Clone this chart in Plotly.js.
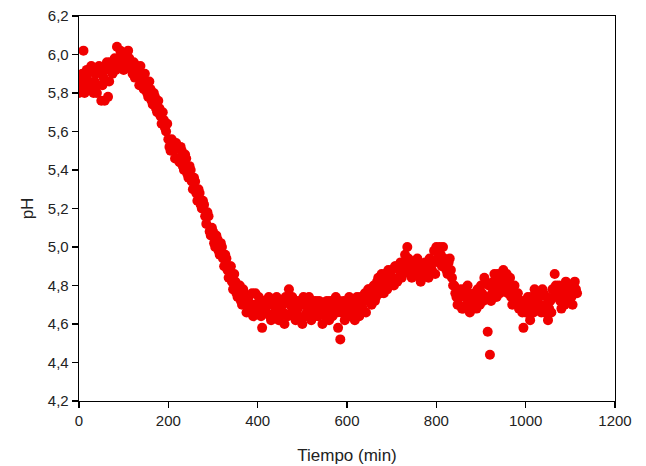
<!DOCTYPE html>
<html>
<head>
<meta charset="utf-8">
<script src="https://cdn.plot.ly/plotly-3.0.1.min.js"></script>
<style>html,body{margin:0;padding:0;background:#fff;}#chart{width:646px;height:466px;}</style>
</head>
<body>
<div id="chart"></div>
<script>
// Time (min) - first set of readings
const tiempoA = [
  0,5,10,15,20,25,30,35,40,45,
  50,55,60,65,70,75,80,85,90,95,
  100,105,110,115,120,125,130,135,140,145,
  150,155,160,165,170,175,180,185,190,195,
  200,205,210,215,220,225,230,235,240,245,
  250,255,260,265,270,275,280,285,290,295,
  300,305,310,315,320,325,330,335,340,345,
  350,355,360,365,370,375,380,385,390,395,
  400,405,410,415,420,425,430,435,440,445,
  450,455,460,465,470,475,480,485,490,495,
  500,505,510,515,520,525,530,535,540,545,
  550,555,560,565,570,575,580,585,590,595,
  600,605,610,615,620,625,630,635,640,645,
  650,655,660,665,670,675,680,685,690,695,
  700,705,710,715,720,725,730,735,740,745,
  750,755,760,765,770,775,780,785,790,795,
  800,805,810,815,820,825,830,835,840,845,
  850,855,860,865,870,875,880,885,890,895,
  900,905,910,915,920,925,930,935,940,945,
  950,955,960,965,970,975,980,985,990,995,
  1000,1005,1010,1015,1020,1025,1030,1035,1040,1045,
  1050,1055,1060,1065,1070,1075,1080,1085,1090,1095,
  1100,1105,1110,1115
];
const pHA = [
  5.80,5.88,6.02,5.84,5.90,5.82,5.92,5.86,5.80,5.94,
  5.76,5.88,5.92,5.78,5.96,5.90,5.98,6.04,5.94,6.00,
  5.92,5.98,6.02,5.96,5.90,5.88,5.94,5.84,5.90,5.82,
  5.84,5.78,5.82,5.74,5.78,5.70,5.72,5.64,5.66,5.60,
  5.56,5.50,5.54,5.46,5.52,5.44,5.50,5.40,5.46,5.36,
  5.40,5.30,5.34,5.24,5.28,5.20,5.22,5.12,5.16,5.06,
  5.08,5.00,5.04,4.96,5.00,4.90,4.94,4.84,4.90,4.78,
  4.82,4.74,4.80,4.70,4.76,4.66,4.74,4.70,4.64,4.76,
  4.68,4.72,4.58,4.70,4.66,4.74,4.62,4.70,4.68,4.72,
  4.64,4.70,4.60,4.72,4.78,4.66,4.70,4.62,4.68,4.72,
  4.60,4.70,4.66,4.74,4.62,4.68,4.72,4.64,4.70,4.60,
  4.66,4.72,4.62,4.70,4.66,4.74,4.58,4.52,4.68,4.62,
  4.70,4.74,4.64,4.72,4.66,4.70,4.74,4.68,4.76,4.72,
  4.78,4.70,4.80,4.74,4.84,4.76,4.82,4.86,4.78,4.84,
  4.88,4.80,4.90,4.84,4.92,4.86,4.96,5.00,4.90,4.84,
  4.92,4.86,4.90,4.82,4.88,4.92,4.86,4.94,4.88,4.98,
  5.00,4.92,4.96,5.00,4.90,4.86,4.94,4.84,4.80,4.74,
  4.70,4.78,4.68,4.74,4.80,4.66,4.72,4.76,4.68,4.74,
  4.80,4.72,4.82,4.56,4.44,4.76,4.86,4.74,4.82,4.78,
  4.88,4.82,4.76,4.84,4.70,4.80,4.74,4.68,4.72,4.58,
  4.66,4.74,4.62,4.70,4.78,4.68,4.74,4.66,4.76,4.70,
  4.62,4.72,4.78,4.86,4.74,4.80,4.68,4.76,4.82,4.72,
  4.78,4.70,4.82,4.76
];
// Time (min) - intermediate readings
const tiempoB = [
  2.5,7.5,12.5,17.5,22.5,27.5,32.5,37.5,42.5,47.5,
  52.5,57.5,62.5,67.5,72.5,77.5,82.5,87.5,92.5,97.5,
  102.5,107.5,112.5,117.5,122.5,127.5,132.5,137.5,142.5,147.5,
  152.5,157.5,162.5,167.5,172.5,177.5,182.5,187.5,192.5,197.5,
  202.5,207.5,212.5,217.5,222.5,227.5,232.5,237.5,242.5,247.5,
  252.5,257.5,262.5,267.5,272.5,277.5,282.5,287.5,292.5,297.5,
  302.5,307.5,312.5,317.5,322.5,327.5,332.5,337.5,342.5,347.5,
  352.5,357.5,362.5,367.5,372.5,377.5,382.5,387.5,392.5,397.5,
  402.5,407.5,412.5,417.5,422.5,427.5,432.5,437.5,442.5,447.5,
  452.5,457.5,462.5,467.5,472.5,477.5,482.5,487.5,492.5,497.5,
  502.5,507.5,512.5,517.5,522.5,527.5,532.5,537.5,542.5,547.5,
  552.5,557.5,562.5,567.5,572.5,577.5,582.5,587.5,592.5,597.5,
  602.5,607.5,612.5,617.5,622.5,627.5,632.5,637.5,642.5,647.5,
  652.5,657.5,662.5,667.5,672.5,677.5,682.5,687.5,692.5,697.5,
  702.5,707.5,712.5,717.5,722.5,727.5,732.5,737.5,742.5,747.5,
  752.5,757.5,762.5,767.5,772.5,777.5,782.5,787.5,792.5,797.5,
  802.5,807.5,812.5,817.5,822.5,827.5,832.5,837.5,842.5,847.5,
  852.5,857.5,862.5,867.5,872.5,877.5,882.5,887.5,892.5,897.5,
  902.5,907.5,912.5,917.5,922.5,927.5,932.5,937.5,942.5,947.5,
  952.5,957.5,962.5,967.5,972.5,977.5,982.5,987.5,992.5,997.5,
  1002.5,1007.5,1012.5,1017.5,1022.5,1027.5,1032.5,1037.5,1042.5,1047.5,
  1052.5,1057.5,1062.5,1067.5,1072.5,1077.5,1082.5,1087.5,1092.5,1097.5,
  1102.5,1107.5,1112.5
];
const pHB = [
  5.84,5.90,5.80,5.92,5.86,5.94,5.80,5.90,5.84,5.92,
  5.84,5.76,5.96,5.86,5.92,5.96,5.92,5.98,6.02,5.96,
  6.00,5.94,5.98,5.92,5.96,5.92,5.88,5.94,5.86,5.90,
  5.80,5.86,5.76,5.80,5.72,5.76,5.68,5.70,5.62,5.64,
  5.52,5.56,5.50,5.54,5.46,5.52,5.42,5.48,5.38,5.42,
  5.34,5.36,5.28,5.30,5.22,5.24,5.16,5.18,5.08,5.10,
  5.02,5.06,4.98,5.02,4.94,4.96,4.88,4.90,4.82,4.86,
  4.76,4.80,4.72,4.78,4.70,4.72,4.66,4.76,4.70,4.66,
  4.74,4.64,4.72,4.66,4.70,4.64,4.72,4.66,4.74,4.62,
  4.72,4.66,4.74,4.64,4.70,4.74,4.66,4.72,4.64,4.70,
  4.74,4.64,4.70,4.68,4.72,4.64,4.68,4.72,4.66,4.70,
  4.64,4.68,4.72,4.64,4.70,4.66,4.72,4.66,4.72,4.66,
  4.64,4.68,4.72,4.62,4.74,4.64,4.68,4.72,4.66,4.78,
  4.74,4.78,4.72,4.82,4.78,4.86,4.76,4.80,4.88,4.80,
  4.84,4.90,4.82,4.88,4.84,4.90,4.88,4.94,4.86,4.92,
  4.88,4.94,4.84,4.90,4.86,4.90,4.84,4.90,4.92,4.86,
  4.94,5.00,4.90,4.94,4.88,4.92,4.88,4.80,4.76,4.70,
  4.74,4.68,4.78,4.70,4.76,4.72,4.68,4.72,4.78,4.70,
  4.76,4.84,4.74,4.80,4.72,4.82,4.78,4.86,4.76,4.84,
  4.78,4.86,4.80,4.74,4.78,4.72,4.76,4.70,4.66,4.72,
  4.70,4.66,4.74,4.66,4.72,4.76,4.70,4.78,4.66,4.74,
  4.68,4.66,4.74,4.80,4.78,4.72,4.78,4.70,4.76,4.80,
  4.74,4.80,4.78
];
const xTicks = [0,200,400,600,800,1000,1200];
const yTicks = [4.2,4.4,4.6,4.8,5.0,5.2,5.4,5.6,5.8,6.0,6.2];

const markerStyle = {color: '#f00000', size: 10, symbol: 'circle', line: {width: 0}};
const traces = [
  {x: tiempoA, y: pHA, type: 'scatter', mode: 'markers', marker: markerStyle, hoverinfo: 'skip'},
  {x: tiempoB, y: pHB, type: 'scatter', mode: 'markers', marker: markerStyle, hoverinfo: 'skip'}
];
const fontFam = '"Liberation Sans", Arial, sans-serif';
const layout = {
  width: 646, height: 466,
  margin: {l: 79, r: 31, t: 16, b: 65, pad: 0},
  paper_bgcolor: '#fff', plot_bgcolor: '#fff',
  separators: ',.',
  showlegend: false,
  font: {family: fontFam, size: 15, color: '#222'},
  xaxis: {
    range: [0, 1200], tickvals: xTicks, ticks: 'outside', ticklen: 6, tickwidth: 1.3, tickcolor: '#000',
    showline: true, linecolor: '#000', linewidth: 1.3, mirror: true, showgrid: false, zeroline: false,
    tickfont: {family: fontFam, size: 15, color: '#222'},
    title: {text: 'Tiempo (min)', font: {family: fontFam, size: 17, color: '#222'}, standoff: 20}
  },
  yaxis: {
    range: [4.2, 6.2], tickvals: yTicks, tickformat: '.1f', ticks: 'outside', ticklen: 6, tickwidth: 1.3, tickcolor: '#000',
    showline: true, linecolor: '#000', linewidth: 1.3, mirror: true, showgrid: false, zeroline: false,
    tickfont: {family: fontFam, size: 15, color: '#222'},
    title: {text: 'pH', font: {family: fontFam, size: 17, color: '#222'}, standoff: 10}
  }
};
Plotly.newPlot('chart', traces, layout, {displayModeBar: false, staticPlot: true});
</script>
</body>
</html>
